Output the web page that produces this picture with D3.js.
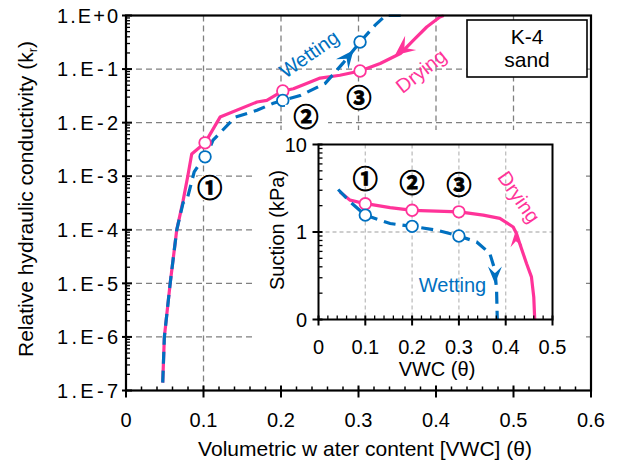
<!DOCTYPE html>
<html><head><meta charset="utf-8">
<script src="https://cdn.jsdelivr.net/npm/d3@7"></script>
<style>
body{margin:0;background:#fff}
text{font-family:"Liberation Sans",Arial,sans-serif;fill:#000}
</style>
</head><body>
<svg id="c" width="618" height="464"></svg>
<script>
// ---------- data ----------
const xTicks = [0, 0.1, 0.2, 0.3, 0.4, 0.5, 0.6];
const xTickLabels = ["0", "0.1", "0.2", "0.3", "0.4", "0.5", "0.6"];
const yTicks = [1e-7, 1e-6, 1e-5, 1e-4, 1e-3, 1e-2, 1e-1, 1];
const yTickLabels = ["1.E-7", "1.E-6", "1.E-5", "1.E-4", "1.E-3", "1.E-2", "1.E-1", "1.E+0"];

const dryVWC = [0.0474, 0.0495, 0.057, 0.0655, 0.0737, 0.0797, 0.0848, 0.102, 0.1214, 0.169, 0.1817, 0.2023, 0.216, 0.233, 0.2505, 0.276, 0.302, 0.328, 0.354, 0.371, 0.388, 0.405, 0.41];
const dryK   = [1.4e-7, 1e-6, 1e-5, 1e-4, 3.5e-4, 1e-3, 2.6e-3, 4.2e-3, 0.0127, 0.0243, 0.026, 0.039, 0.043, 0.054, 0.068, 0.0766, 0.092, 0.127, 0.195, 0.347, 0.61, 0.94, 1.0];
const wetVWC = [0.0474, 0.0495, 0.057, 0.0655, 0.0737, 0.0784, 0.088, 0.097, 0.103, 0.1123, 0.1407, 0.169, 0.19, 0.2023, 0.2247, 0.257, 0.28, 0.302, 0.3215, 0.335, 0.36];
const wetK   = [1.4e-7, 1e-6, 1e-5, 1e-4, 3.2e-4, 3.5e-4, 1.2e-3, 1.9e-3, 2.3e-3, 4.7e-3, 0.0126, 0.017, 0.023, 0.026, 0.032, 0.054, 0.129, 0.32, 0.66, 1.0, 1.0];
const ptVWC  = [0.102, 0.2023, 0.302];
const dryPtK = [4.2e-3, 0.039, 0.092];
const wetPtK = [2.3e-3, 0.026, 0.32];
const markLabels = ["①", "②", "③"];
const mainMarkVWC = [0.108, 0.2323, 0.3006];
const mainMarkK   = [6.0e-4, 0.0129, 0.0285];

const insXTicks = [0, 0.1, 0.2, 0.3, 0.4, 0.5];
const insXTickLabels = ["0", "0.1", "0.2", "0.3", "0.4", "0.5"];
const insYTicks = [0.1, 1, 10];
const insYTickLabels = ["0", "1", "10"];
const insDryVWC = [0.046, 0.0676, 0.098, 0.153, 0.2013, 0.301, 0.352, 0.3875, 0.416, 0.423, 0.430, 0.4445, 0.455, 0.46, 0.462];
const insDryS   = [2.87, 2.31, 2.12, 1.9, 1.77, 1.70, 1.56, 1.43, 1.14, 0.96, 0.74, 0.436, 0.307, 0.18, 0.1];
const insWetVWC = [0.042, 0.068, 0.1, 0.153, 0.2, 0.2525, 0.3, 0.338, 0.366, 0.377, 0.3805, 0.382];
const insWetS   = [3.06, 2.2, 1.56, 1.25, 1.16, 1.05, 0.90, 0.77, 0.57, 0.366, 0.216, 0.1];
const insPtVWC  = [0.1, 0.2, 0.3];
const insDryPtS = [2.1, 1.77, 1.70];
const insWetPtS = [1.56, 1.16, 0.90];
const insMarkS  = [4.0, 3.6, 3.4];

const pink = "#FF3399", blue = "#0070C0";

// ---------- scales ----------
const svg = d3.select("#c");
const x = d3.scaleLinear([0, 0.6], [126, 591]);
const y = d3.scaleLog([1e-7, 1], [390.5, 15.5]);
const ix = d3.scaleLinear([0, 0.5], [318.5, 552.5]);
const iy = d3.scaleLog([0.1, 10], [319.5, 144.5]);
const FS = 20;

// ---------- main grid ----------
const grid = svg.append("g").attr("stroke", "#808080").attr("stroke-width", 1.3).attr("stroke-dasharray", "6,4");
grid.selectAll(".gx").data(xTicks.slice(1, -1)).join("line")
  .attr("x1", d => x(d)).attr("x2", d => x(d)).attr("y1", y(1)).attr("y2", y(1e-7));
grid.selectAll(".gy").data(yTicks.slice(1, -1)).join("line")
  .attr("x1", x(0)).attr("x2", x(0.6)).attr("y1", d => y(d)).attr("y2", d => y(d));

// inset background
svg.append("rect").attr("x", 256).attr("y", 130).attr("width", 329).attr("height", 257).attr("fill", "#fff");

// legend box
svg.append("rect").attr("x", 467).attr("y", 20).attr("width", 120).attr("height", 57)
  .attr("fill", "#fff").attr("stroke", "#000").attr("stroke-width", 1.6);
svg.append("text").attr("x", 527).attr("y", 43.5).attr("text-anchor", "middle").attr("font-size", 21).text("K-4");
svg.append("text").attr("x", 527).attr("y", 66.5).attr("text-anchor", "middle").attr("font-size", 21).text("sand");

// ---------- main curves ----------
svg.append("clipPath").attr("id", "mclip").append("rect")
  .attr("x", x(0)).attr("y", y(1) - 1).attr("width", x(0.6) - x(0)).attr("height", y(1e-7) - y(1) + 2);
const line = d3.line().x(d => x(d[0])).y(d => y(d[1]));
const curves = svg.append("g").attr("clip-path", "url(#mclip)");
curves.append("path").attr("d", line(dryVWC.map((v, i) => [v, dryK[i]])))
  .attr("fill", "none").attr("stroke", pink).attr("stroke-width", 3.2).attr("stroke-linejoin", "round");
curves.append("path").attr("d", line(wetVWC.map((v, i) => [v, wetK[i]])))
  .attr("fill", "none").attr("stroke", blue).attr("stroke-width", 3.2).attr("stroke-dasharray", "12,7");

function arrow(g, px, py, ang, len, half, color) {
  g.append("path").attr("d", `M0,0 L${-len},${-half} L${-len * 0.6},0 L${-len},${half} Z`)
    .attr("transform", `translate(${px},${py}) rotate(${ang})`).attr("fill", color);
}
arrow(svg, x(0.2935), y(0.224), -51, 18, 8, blue);
arrow(svg, x(0.347), y(0.181), 142, 20, 9, pink);

// main circles
svg.selectAll(".pd").data(ptVWC).join("circle")
  .attr("cx", d => x(d)).attr("cy", (d, i) => y(dryPtK[i])).attr("r", 5.8)
  .attr("fill", "#fff").attr("stroke", pink).attr("stroke-width", 1.8);
svg.selectAll(".pw").data(ptVWC).join("circle")
  .attr("cx", d => x(d)).attr("cy", (d, i) => y(wetPtK[i])).attr("r", 5.8)
  .attr("fill", "#fff").attr("stroke", blue).attr("stroke-width", 1.8);

// main mark labels
const ml = svg.append("g");
ml.selectAll("rect").data(mainMarkVWC).join("rect")
  .attr("x", (d, i) => x(d) - (i === 1 ? 21 : 12)).attr("y", (d, i) => y(mainMarkK[i]) - 12)
  .attr("width", (d, i) => i === 1 ? 43 : 24).attr("height", 24).attr("fill", "#fff");
ml.selectAll("text").data(mainMarkVWC).join("text")
  .attr("x", d => x(d)).attr("y", (d, i) => y(mainMarkK[i])).attr("dy", "0.36em")
  .attr("text-anchor", "middle").attr("font-size", 25).attr("font-weight", "bold")
  .attr("stroke", "#000").attr("stroke-width", 0.9)
  .style("font-family", "'Noto Sans CJK JP'").text((d, i) => markLabels[i]);

// curve labels main
svg.append("text").attr("transform", "translate(309,54) rotate(-35)").attr("text-anchor", "middle")
  .attr("dy", "0.35em").attr("font-size", FS).style("fill", blue).text("Wetting");
svg.append("text").attr("transform", "translate(421,71) rotate(-38)").attr("text-anchor", "middle")
  .attr("dy", "0.35em").attr("font-size", FS).style("fill", pink).text("Drying");

// ---------- main axes ----------
const ax = svg.append("g").attr("stroke", "#000");
ax.append("rect").attr("x", x(0)).attr("y", y(1)).attr("width", x(0.6) - x(0)).attr("height", y(1e-7) - y(1))
  .attr("fill", "none").attr("stroke-width", 2.2);
ax.selectAll(".xt").data(xTicks).join("line").attr("stroke-width", 2)
  .attr("x1", d => x(d)).attr("x2", d => x(d)).attr("y1", y(1e-7) - 5).attr("y2", y(1e-7) + 7);
ax.selectAll(".xm").data(d3.range(0, 0.6, 0.02).filter((d, i) => i % 5 !== 0)).join("line").attr("stroke-width", 1.5)
  .attr("x1", d => x(d)).attr("x2", d => x(d)).attr("y1", y(1e-7) - 4).attr("y2", y(1e-7));
ax.selectAll(".yt").data(yTicks).join("line").attr("stroke-width", 2)
  .attr("x1", x(0) - 4).attr("x2", x(0) + 6).attr("y1", d => y(d)).attr("y2", d => y(d));
const yMinor = [];
yTicks.slice(0, -1).forEach(t => { for (let k = 2; k <= 9; k++) yMinor.push(t * k); });
ax.selectAll(".ym").data(yMinor).join("line").attr("stroke-width", 1.3)
  .attr("x1", x(0)).attr("x2", x(0) + 4).attr("y1", d => y(d)).attr("y2", d => y(d));

svg.selectAll(".xl").data(xTicks).join("text").attr("x", d => x(d)).attr("y", 426.5)
  .attr("text-anchor", "middle").attr("font-size", FS).text((d, i) => xTickLabels[i]);
svg.selectAll(".yl").data(yTicks).join("text").attr("x", 118).attr("y", d => y(d)).attr("dy", "0.36em")
  .attr("text-anchor", "end").attr("font-size", FS).attr("textLength", 61).attr("lengthAdjust", "spacing")
  .text((d, i) => yTickLabels[i]);

svg.append("text").attr("x", 365).attr("y", 456).attr("text-anchor", "middle").attr("font-size", 21)
  .text("Volumetric w ater content [VWC] (θ)");
const yt = svg.append("text").attr("transform", "translate(33,199) rotate(-90)").attr("text-anchor", "middle").attr("font-size", 21);
yt.append("tspan").text("Relative hydraulic conductivity (k");
yt.append("tspan").attr("font-size", 13).attr("dy", 4).text("r");
yt.append("tspan").attr("dy", -4).text(")");

// ---------- inset ----------
const ig = svg.append("g").attr("stroke", "#BFBFBF").attr("stroke-width", 1.3).attr("stroke-dasharray", "4,3");
ig.selectAll(".igx").data(insXTicks.slice(1, -1)).join("line")
  .attr("x1", d => ix(d)).attr("x2", d => ix(d)).attr("y1", iy(10)).attr("y2", iy(0.1));
ig.append("line").attr("x1", ix(0)).attr("x2", ix(0.5)).attr("y1", iy(1)).attr("y2", iy(1));

const iline = d3.line().x(d => ix(d[0])).y(d => iy(d[1]));
svg.append("path").attr("d", iline(insDryVWC.map((v, i) => [v, insDryS[i]])))
  .attr("fill", "none").attr("stroke", pink).attr("stroke-width", 3.2).attr("stroke-linejoin", "round");
svg.append("path").attr("d", iline(insWetVWC.map((v, i) => [v, insWetS[i]])))
  .attr("fill", "none").attr("stroke", blue).attr("stroke-width", 3.2).attr("stroke-dasharray", "12,7");
arrow(svg, ix(0.4196), iy(0.96), -97, 13, 6, pink);
arrow(svg, ix(0.377), iy(0.258), 90, 17, 7, blue);

svg.selectAll(".ipd").data(insPtVWC).join("circle")
  .attr("cx", d => ix(d)).attr("cy", (d, i) => iy(insDryPtS[i])).attr("r", 5.8)
  .attr("fill", "#fff").attr("stroke", pink).attr("stroke-width", 1.8);
svg.selectAll(".ipw").data(insPtVWC).join("circle")
  .attr("cx", d => ix(d)).attr("cy", (d, i) => iy(insWetPtS[i])).attr("r", 5.8)
  .attr("fill", "#fff").attr("stroke", blue).attr("stroke-width", 1.8);
svg.selectAll(".iml").data(insPtVWC).join("text")
  .attr("x", d => ix(d)).attr("y", (d, i) => iy(insMarkS[i])).attr("dy", "0.36em")
  .attr("text-anchor", "middle").attr("font-size", 25).attr("font-weight", "bold")
  .attr("stroke", "#000").attr("stroke-width", 0.9)
  .style("font-family", "'Noto Sans CJK JP'").text((d, i) => markLabels[i]);

svg.append("text").attr("x", 452.5).attr("y", 292).attr("text-anchor", "middle").attr("font-size", FS)
  .style("fill", blue).text("Wetting");
svg.append("text").attr("transform", "translate(519,197) rotate(55)").attr("text-anchor", "middle")
  .attr("dy", "0.35em").attr("font-size", FS).style("fill", pink).text("Drying");

const iax = svg.append("g").attr("stroke", "#000");
iax.append("rect").attr("x", ix(0)).attr("y", iy(10)).attr("width", ix(0.5) - ix(0)).attr("height", iy(0.1) - iy(10))
  .attr("fill", "none").attr("stroke-width", 2);
iax.selectAll(".ixt").data(insXTicks).join("line").attr("stroke-width", 2)
  .attr("x1", d => ix(d)).attr("x2", d => ix(d)).attr("y1", iy(0.1) - 4).attr("y2", iy(0.1) + 6);
iax.selectAll(".ixm").data(d3.range(0, 0.5, 0.02).filter((d, i) => i % 5 !== 0)).join("line").attr("stroke-width", 1.3)
  .attr("x1", d => ix(d)).attr("x2", d => ix(d)).attr("y1", iy(0.1) - 4).attr("y2", iy(0.1));
iax.selectAll(".iyt").data(insYTicks).join("line").attr("stroke-width", 2)
  .attr("x1", ix(0) - 6).attr("x2", ix(0) + 4).attr("y1", d => iy(d)).attr("y2", d => iy(d));
const iyMinor = [];
[0.1, 1].forEach(t => { for (let k = 2; k <= 9; k++) iyMinor.push(t * k); });
iax.selectAll(".iym").data(iyMinor).join("line").attr("stroke-width", 1.3)
  .attr("x1", ix(0)).attr("x2", ix(0) + 4).attr("y1", d => iy(d)).attr("y2", d => iy(d));

svg.selectAll(".ixl").data(insXTicks).join("text").attr("x", d => ix(d)).attr("y", 353.5)
  .attr("text-anchor", "middle").attr("font-size", FS).text((d, i) => insXTickLabels[i]);
svg.selectAll(".iyl").data(insYTicks).join("text").attr("x", 307).attr("y", d => iy(d)).attr("dy", "0.36em")
  .attr("text-anchor", "end").attr("font-size", FS).text((d, i) => insYTickLabels[i]);
svg.append("text").attr("x", 437).attr("y", 376).attr("text-anchor", "middle").attr("font-size", FS).text("VWC (θ)");
svg.append("text").attr("transform", "translate(284,230) rotate(-90)").attr("text-anchor", "middle")
  .attr("font-size", FS).text("Suction (kPa)");
</script>
</body></html>
